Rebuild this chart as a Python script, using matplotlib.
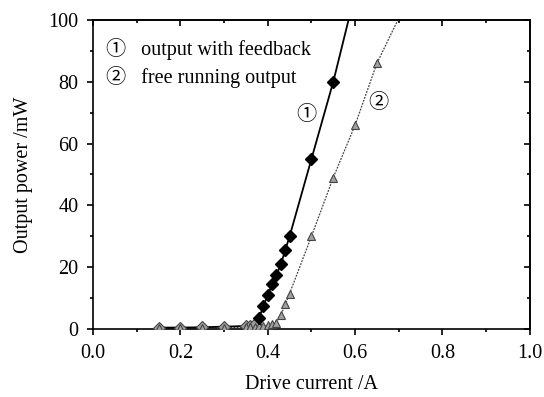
import matplotlib
matplotlib.use("Agg")
import matplotlib.pyplot as plt
from matplotlib.ticker import MultipleLocator

plt.rcParams['font.family'] = ['Liberation Serif', 'Noto Sans CJK JP', 'DejaVu Sans']

# drive current (A) and output power (mW)
fb_current = [0.15, 0.20, 0.25, 0.30, 0.35, 0.36, 0.37, 0.38, 0.39, 0.40,
              0.41, 0.42, 0.43, 0.44, 0.45, 0.50, 0.55]
fb_power = [0.5, 0.5, 0.6, 0.8, 1.0, 1.0, 1.5, 3.5, 7.5, 11.0,
            14.5, 17.5, 21.0, 25.5, 30.0, 55.0, 80.0]
# where the drawn line leaves the top of the frame
fb_line_end = (0.585, 100)

free_current = [0.15, 0.20, 0.25, 0.30, 0.35, 0.36, 0.37, 0.38, 0.39, 0.40,
                0.41, 0.42, 0.43, 0.44, 0.45, 0.50, 0.55, 0.60, 0.65]
free_power = [0.3, 0.3, 0.4, 0.5, 0.6, 0.7, 0.8, 0.9, 1.0, 1.2,
              1.5, 2.0, 4.5, 8.0, 11.5, 30.0, 49.0, 66.0, 86.0]
free_line_end = (0.698, 100)

fig = plt.figure(figsize=(5.44, 3.97), dpi=100)
ax = fig.add_axes([0.171, 0.171, 0.803, 0.779])

fs = 14.5
grey_fill = '#a0a0a0'
grey_edge = '#444444'

# free running output (dotted line, grey triangles)
ax.plot(free_current + [free_line_end[0]], free_power + [free_line_end[1]],
        color='#444444', lw=0.9, ls=(0, (1.5, 1)), zorder=2)

# output with feedback (solid line); below threshold the marks look grey
ax.plot(fb_current + [fb_line_end[0]], fb_power + [fb_line_end[1]],
        color='black', lw=1.3, zorder=3)
ax.plot(fb_current[:7], fb_power[:7], ls='none', marker='D', ms=6,
        mfc=grey_fill, mec=grey_edge, mew=0.8, zorder=4)

ax.plot(free_current, free_power, ls='none', marker='^', ms=6,
        mfc=grey_fill, mec=grey_edge, mew=0.8, zorder=5)

ax.plot(fb_current[7:], fb_power[7:], ls='none', marker='D', ms=6,
        mfc='black', mec='black', zorder=6)

ax.set_xlim(0, 1.0)
ax.set_ylim(0, 100)
ax.xaxis.set_major_locator(MultipleLocator(0.2))
ax.xaxis.set_minor_locator(MultipleLocator(0.1))
ax.yaxis.set_major_locator(MultipleLocator(20))
ax.yaxis.set_minor_locator(MultipleLocator(10))
ax.xaxis.set_major_formatter(lambda v, p: f"{v:.1f}")
ax.tick_params(which='major', direction='out', length=4.5, width=1.2,
               labelsize=fs, pad=6)
ax.tick_params(which='minor', direction='out', length=2.2, width=1.2)

# top and right ticks point inward
top = ax.secondary_xaxis('top')
top.xaxis.set_major_locator(MultipleLocator(0.2))
top.xaxis.set_minor_locator(MultipleLocator(0.1))
top.tick_params(which='major', direction='in', length=4.5, width=1.2,
                labeltop=False)
top.tick_params(which='minor', direction='in', length=2.2, width=1.2)
right = ax.secondary_yaxis('right')
right.yaxis.set_major_locator(MultipleLocator(20))
right.yaxis.set_minor_locator(MultipleLocator(10))
right.tick_params(which='major', direction='in', length=4.5, width=1.2,
                  labelright=False)
right.tick_params(which='minor', direction='in', length=2.2, width=1.2)

for s in list(ax.spines.values()) + [top.spines['top'], right.spines['right']]:
    s.set_linewidth(1.2)

ax.set_xlabel('Drive current /A', fontsize=fs, labelpad=9)
ax.set_ylabel('Output power /mW', fontsize=fs, labelpad=11)

ax.text(0.03, 0.905, '\u2460   output with feedback', transform=ax.transAxes,
        fontsize=fs, va='center')
ax.text(0.03, 0.815, '\u2461   free running output', transform=ax.transAxes,
        fontsize=fs, va='center')
ax.text(0.489, 69, '\u2460', fontsize=fs, ha='center', va='center')
ax.text(0.654, 73, '\u2461', fontsize=fs, ha='center', va='center')

fig.savefig('out.png', dpi=100)
